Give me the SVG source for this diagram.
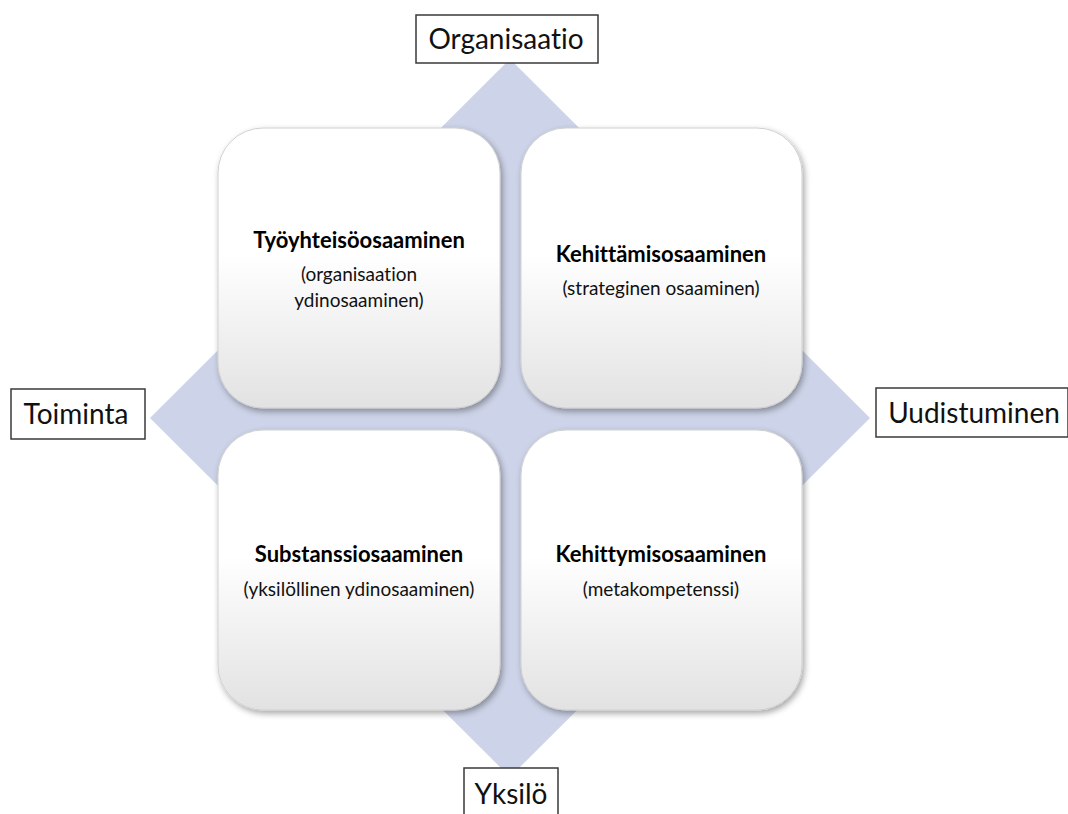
<svg xmlns="http://www.w3.org/2000/svg" width="1068" height="814" viewBox="0 0 1068 814">
  <defs>
    <linearGradient id="cardFill" x1="0" y1="0" x2="0" y2="1">
      <stop offset="0" stop-color="#ffffff"/>
      <stop offset="0.45" stop-color="#ffffff"/>
      <stop offset="1" stop-color="#e2e2e2"/>
    </linearGradient>
    <filter id="cardShadow" x="-10%" y="-10%" width="125%" height="125%">
      <feDropShadow dx="2" dy="3" stdDeviation="3" flood-color="#000" flood-opacity="0.35"/>
    </filter>
  </defs>
  <style>
    text { font-variant-ligatures: none; }
    .card { fill: url(#cardFill); stroke: #d0d0d0; stroke-width: 1; filter: url(#cardShadow); }
    .axis { fill: #cdd3e8; }
    .tag { fill: #ffffff; stroke: #3a3a3a; stroke-width: 1.5; }
    .tagText { font-family: Lato, "Liberation Sans", sans-serif; font-size: 28px; fill: #111; text-anchor: middle; }
    .title { font-family: Lato, "Liberation Sans", sans-serif; font-size: 22px; font-weight: bold; fill: #000; text-anchor: middle; }
    .sub { font-family: Lato, "Liberation Sans", sans-serif; font-size: 19px; fill: #111; text-anchor: middle; }
  </style>

  <rect width="1068" height="814" fill="#ffffff"/>

  <!-- background diamond spanning both axes -->
  <g id="axes">
    <polygon class="axis" points="510,59 870,418 510,777 150,418"/>
  </g>

  <g id="connectors"></g>

  <!-- quadrant cards -->
  <g id="tyoyhteiso">
    <rect class="card" x="218" y="128" width="282" height="280" rx="45" ry="45"/>
    <text class="title" x="359" y="248">Työyhteisöosaaminen</text>
    <text class="sub" x="359" y="281">(organisaation</text>
    <text class="sub" x="359" y="307">ydinosaaminen)</text>
  </g>
  <g id="kehittamis">
    <rect class="card" x="521" y="128" width="281" height="280" rx="45" ry="45"/>
    <text class="title" x="661" y="262">Kehittämisosaaminen</text>
    <text class="sub" x="661" y="295">(strateginen osaaminen)</text>
  </g>
  <g id="substanssi">
    <rect class="card" x="218" y="430" width="282" height="280" rx="45" ry="45"/>
    <text class="title" x="359" y="562">Substanssiosaaminen</text>
    <text class="sub" x="359" y="596">(yksilöllinen ydinosaaminen)</text>
  </g>
  <g id="kehittymis">
    <rect class="card" x="521" y="430" width="281" height="280" rx="45" ry="45"/>
    <text class="title" x="661" y="562">Kehittymisosaaminen</text>
    <text class="sub" x="661" y="596">(metakompetenssi)</text>
  </g>

  <!-- axis end labels -->
  <g id="organisaatio">
    <rect class="tag" x="416" y="15" width="182" height="48"/>
    <text class="tagText" x="506" y="49">Organisaatio</text>
  </g>
  <g id="toiminta">
    <rect class="tag" x="11" y="389" width="134" height="50"/>
    <text class="tagText" x="76" y="424">Toiminta</text>
  </g>
  <g id="uudistuminen">
    <rect class="tag" x="876" y="388" width="192" height="49"/>
    <text class="tagText" x="974" y="423">Uudistuminen</text>
  </g>
  <g id="yksilo">
    <rect class="tag" x="464" y="768" width="94" height="50"/>
    <text class="tagText" x="511" y="804">Yksilö</text>
  </g>
</svg>
